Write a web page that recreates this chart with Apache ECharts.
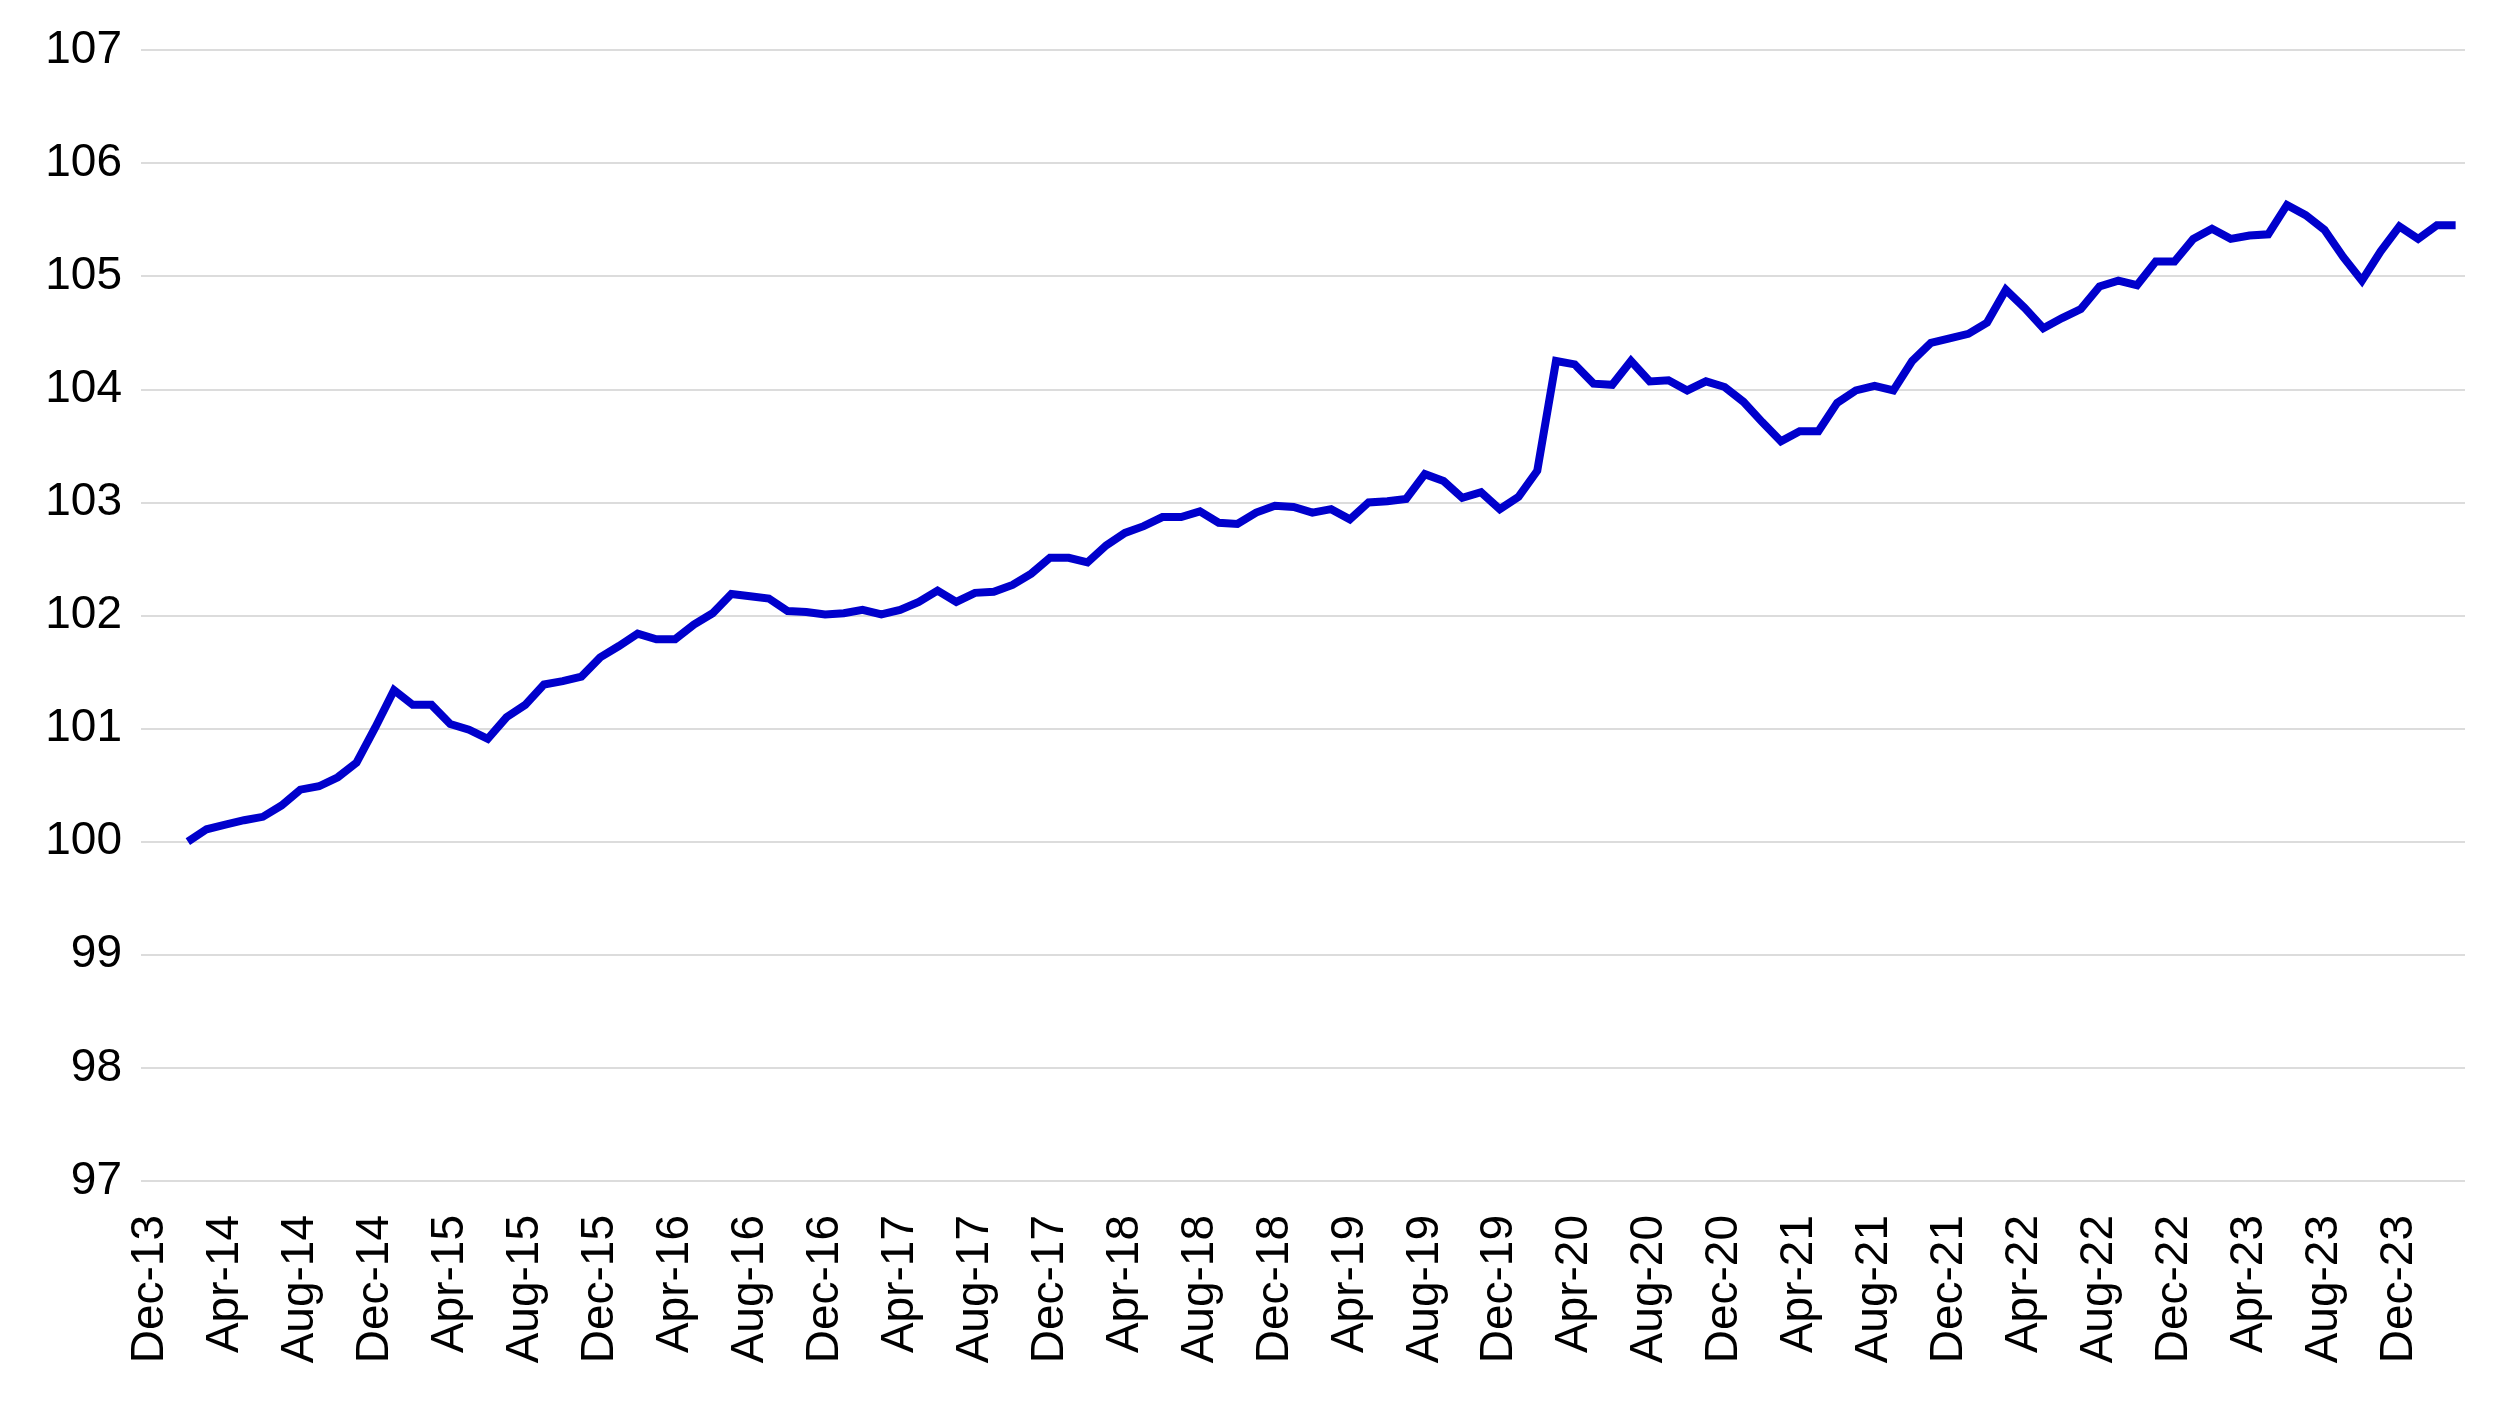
<!DOCTYPE html>
<html>
<head>
<meta charset="utf-8">
<script src="https://cdn.jsdelivr.net/npm/echarts@6/dist/echarts.min.js"></script>
<style>
html,body{margin:0;padding:0;background:#fff;}
#chart{width:2496px;height:1404px;}
</style>
</head>
<body>
<div id="chart"></div>
<script>
const months = ["Dec-13",
"Jan-14","Feb-14","Mar-14","Apr-14","May-14","Jun-14","Jul-14","Aug-14","Sep-14","Oct-14","Nov-14","Dec-14",
"Jan-15","Feb-15","Mar-15","Apr-15","May-15","Jun-15","Jul-15","Aug-15","Sep-15","Oct-15","Nov-15","Dec-15",
"Jan-16","Feb-16","Mar-16","Apr-16","May-16","Jun-16","Jul-16","Aug-16","Sep-16","Oct-16","Nov-16","Dec-16",
"Jan-17","Feb-17","Mar-17","Apr-17","May-17","Jun-17","Jul-17","Aug-17","Sep-17","Oct-17","Nov-17","Dec-17",
"Jan-18","Feb-18","Mar-18","Apr-18","May-18","Jun-18","Jul-18","Aug-18","Sep-18","Oct-18","Nov-18","Dec-18",
"Jan-19","Feb-19","Mar-19","Apr-19","May-19","Jun-19","Jul-19","Aug-19","Sep-19","Oct-19","Nov-19","Dec-19",
"Jan-20","Feb-20","Mar-20","Apr-20","May-20","Jun-20","Jul-20","Aug-20","Sep-20","Oct-20","Nov-20","Dec-20",
"Jan-21","Feb-21","Mar-21","Apr-21","May-21","Jun-21","Jul-21","Aug-21","Sep-21","Oct-21","Nov-21","Dec-21",
"Jan-22","Feb-22","Mar-22","Apr-22","May-22","Jun-22","Jul-22","Aug-22","Sep-22","Oct-22","Nov-22","Dec-22",
"Jan-23","Feb-23","Mar-23","Apr-23","May-23","Jun-23","Jul-23","Aug-23","Sep-23","Oct-23","Nov-23","Dec-23",
"Jan-24","Feb-24","Mar-24"];

const indexValues = [null, null,
100.00,100.11,100.15,100.19,100.22,100.32,100.46,100.49,100.57,100.70,
101.01,101.34,101.21,101.21,101.04,100.99,100.91,101.10,101.21,101.39,
101.42,101.46,101.63,101.73,101.84,101.79,101.79,101.92,102.02,102.19,
102.17,102.15,102.04,102.03,102.01,102.02,102.05,102.01,102.05,102.12,
102.22,102.12,102.20,102.21,102.27,102.37,102.51,102.51,102.47,102.62,
102.73,102.79,102.87,102.87,102.92,102.82,102.81,102.91,102.97,102.96,
102.91,102.94,102.85,103.00,103.01,103.03,103.25,103.19,103.04,103.09,
102.94,103.05,103.28,104.25,104.22,104.05,104.04,104.25,104.07,104.08,
103.99,104.07,104.02,103.89,103.71,103.54,103.63,103.63,103.88,103.99,
104.03,103.99,104.25,104.41,104.45,104.49,104.59,104.88,104.72,104.54,
104.63,104.71,104.91,104.96,104.92,105.13,105.13,105.33,105.42,105.33,
105.36,105.37,105.63,105.54,105.41,105.17,104.96,105.22,105.44,105.33,
105.45,105.45];

const yMin = 97, yMax = 107, yStep = 1;

const chart = echarts.init(document.getElementById('chart'));
chart.setOption({
  animation: false,
  backgroundColor: '#ffffff',
  grid: { left: 141, right: 31, top: 50, bottom: 223, containLabel: false },
  xAxis: {
    type: 'category',
    data: months,
    boundaryGap: true,
    axisLine: { show: false },
    axisTick: { show: false },
    splitLine: { show: false },
    axisLabel: {
      interval: 3,
      rotate: 90,
      margin: 34,
      color: '#000000',
      fontFamily: 'Liberation Sans, Arial, sans-serif',
      fontSize: 46
    }
  },
  yAxis: {
    type: 'value',
    min: yMin,
    max: yMax,
    interval: yStep,
    axisLine: { show: false },
    axisTick: { show: false },
    splitLine: { show: true, lineStyle: { color: '#dcdcdc', width: 2 } },
    axisLabel: {
      margin: 19,
      color: '#000000',
      fontFamily: 'Liberation Sans, Arial, sans-serif',
      fontSize: 46
    }
  },
  series: [{
    type: 'line',
    data: indexValues,
    showSymbol: false,
    connectNulls: false,
    lineStyle: { color: '#0000cc', width: 8, join: 'miter' },
    itemStyle: { color: '#0000cc' }
  }]
});
</script>
</body>
</html>
